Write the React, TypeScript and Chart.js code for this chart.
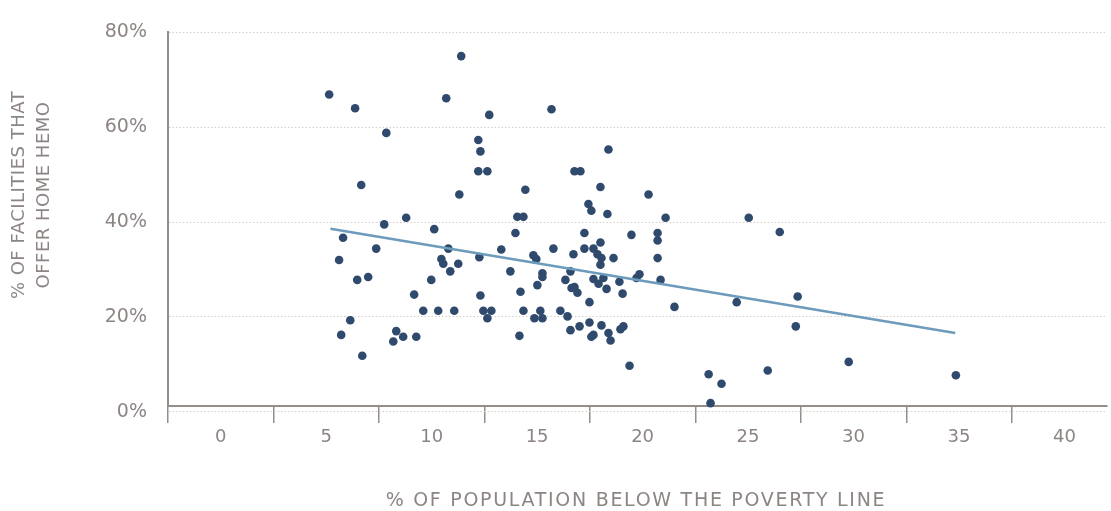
import { useEffect, useRef } from 'react';
import { Chart, registerables } from 'chart.js';

Chart.register(...registerables);

// % of population below the poverty line (x) for each area
const povertyRate = [
  5.14, 6.37, 7.85, 6.66, 11.4, 10.69, 12.73, 15.68, 12.21, 12.31,
  12.21, 12.64, 16.77, 17.05, 11.31, 14.44, 18.0, 17.43, 17.57, 18.38,
  20.28, 18.33, 21.09, 25.03, 26.5, 5.8, 7.75, 8.79, 10.12, 14.06,
  14.35, 13.97, 17.24, 19.47, 20.71, 20.71, 7.37, 5.61, 10.79, 13.3,
  15.77, 17.24, 17.67, 18.0, 16.72, 17.86, 18.05, 18.62, 20.71, 14.82,
  14.96, 12.26, 10.46, 10.55, 11.26, 18.0, 10.88, 13.73, 16.58, 15.25,
  15.25, 6.47, 6.99, 9.98, 16.34, 17.67, 18.14, 17.91, 15.01, 18.29,
  18.9, 19.05, 19.71, 19.85, 20.85, 16.63, 16.77, 16.91, 14.21, 9.17,
  12.31, 17.48, 21.51, 24.46, 27.35, 9.6, 10.31, 11.07, 12.45, 12.83,
  12.64, 14.35, 15.15, 14.87, 15.25, 16.1, 16.44, 17.48, 17.01, 18.05,
  16.58, 17.57, 17.67, 18.38, 18.48, 18.95, 19.09, 27.26, 6.14, 5.71,
  8.32, 8.65, 8.18, 9.27, 14.16, 6.71, 19.38, 23.13, 23.74, 23.22,
  25.93, 29.77, 34.85,
];

// % of facilities that offer home hemodialysis (y)
const homeHemoShare = [
  66.9, 64.0, 58.8, 47.8, 75.0, 66.1, 62.6, 63.8, 57.3, 54.9,
  50.7, 50.7, 50.7, 50.7, 45.8, 46.8, 47.4, 43.8, 42.4, 55.3,
  45.8, 41.7, 40.9, 40.9, 37.9, 36.7, 39.5, 40.9, 38.5, 41.1,
  41.1, 37.7, 37.7, 37.3, 37.7, 36.1, 34.4, 32.0, 34.4, 34.2,
  34.4, 34.4, 34.4, 35.7, 33.2, 33.2, 32.4, 32.4, 32.4, 33.0,
  32.2, 32.6, 32.2, 31.2, 31.2, 31.0, 29.6, 29.6, 29.6, 29.2,
  28.4, 27.8, 28.4, 27.8, 27.8, 28.0, 28.2, 27.0, 26.7, 25.9,
  27.4, 24.9, 28.2, 29.0, 27.8, 26.1, 26.3, 25.1, 25.3, 24.7,
  24.5, 23.1, 22.1, 23.1, 24.3, 21.3, 21.3, 21.3, 21.3, 21.3,
  19.7, 21.3, 21.3, 19.7, 19.7, 21.3, 20.1, 18.8, 18.0, 18.2,
  17.2, 15.8, 16.2, 16.6, 15.0, 17.4, 18.0, 18.0, 19.3, 16.2,
  17.0, 15.8, 14.8, 15.8, 16.0, 11.8, 9.7, 7.9, 5.9, 1.8,
  8.7, 10.5, 7.7,
];

// Linear trend line end points
const trendX = [5.2, 34.82];
const trendY = [38.6, 16.6];

// Axis tick labels
const xTickLabels = [0, 5, 10, 15, 20, 25, 30, 35, 40];
const yTickLabels = [0, 20, 40, 60, 80];

const xTitle = '% OF POPULATION BELOW THE POVERTY LINE';
const yTitleLines = ['% OF FACILITIES THAT', 'OFFER HOME HEMO'];

const TEXT = '#8c8583';
const AXIS = '#958d8a';
const GRID = '#d6cec7';
const DOT = '#2f4a6d';
const TREND = '#6c9bbb';
const FONT = '"DejaVu Sans", sans-serif';

const axisTitlePlugin = {
  id: 'axisTitlePlugin',
  afterDraw(chart: any) {
    const ctx = chart.ctx as CanvasRenderingContext2D;
    ctx.save();
    ctx.fillStyle = TEXT;
    ctx.textAlign = 'center';
    ctx.textBaseline = 'middle';
    // x title
    ctx.font = `19px ${FONT}`;
    (ctx as any).letterSpacing = '1.7px';
    ctx.fillText(xTitle, 636, chart.height - 10);
    // y title
    ctx.font = `18px ${FONT}`;
    (ctx as any).letterSpacing = '0.5px';
    ctx.translate(19, 195);
    ctx.rotate(-Math.PI / 2);
    yTitleLines.forEach((line, i) => {
      ctx.fillText(line, 0, i * 25);
    });
    ctx.restore();
  },
};

export default function App() {
  const canvasRef = useRef<HTMLCanvasElement | null>(null);

  useEffect(() => {
    const canvas = canvasRef.current;
    if (!canvas) return;
    const points = povertyRate.map((x, i) => ({ x, y: homeHemoShare[i] }));
    const trend = trendX.map((x, i) => ({ x, y: trendY[i] }));

    const chart = new Chart(canvas, {
      type: 'scatter',
      data: {
        datasets: [
          {
            type: 'line',
            data: trend,
            borderColor: TREND,
            borderWidth: 2.5,
            pointRadius: 0,
            fill: false,
            order: 0,
          } as any,
          {
            type: 'scatter',
            data: points,
            backgroundColor: DOT,
            borderColor: DOT,
            borderWidth: 0,
            pointRadius: 4.3,
            pointHoverRadius: 4.3,
            order: 1,
            clip: false,
          } as any,
        ],
      },
      options: {
        animation: false,
        responsive: false,
        devicePixelRatio: 1,
        layout: { padding: { left: 0, right: 0, top: 17, bottom: 0 } },
        plugins: {
          legend: { display: false },
          tooltip: { enabled: false },
        },
        scales: {
          x: {
            type: 'linear',
            min: -2.5,
            max: 42.0,
            afterBuildTicks: (scale: any) => {
              scale.ticks = xTickLabels.map((v) => ({ value: v - 2.5 }));
            },
            afterFit: (scale: any) => {
              scale.height = 105;
              scale.paddingLeft = 0;
              scale.paddingRight = 0;
            },
            grid: {
              display: true,
              drawOnChartArea: false,
              drawTicks: true,
              tickLength: 17,
              color: AXIS,
              lineWidth: 1.5,
            },
            border: { display: true, color: AXIS, width: 2 },
            ticks: {
              autoSkip: false,
              maxRotation: 0,
              labelOffset: 52.7,
              padding: 4,
              color: TEXT,
              font: { family: FONT, size: 18 },
              callback: (value: any) => String(Number(value) + 2.5),
            },
            title: { display: false },
          },
          y: {
            type: 'linear',
            min: 1.2,
            max: 80,
            afterBuildTicks: (scale: any) => {
              scale.ticks = yTickLabels.map((v) => ({ value: v }));
            },
            afterFit: (scale: any) => {
              scale.width = 168;
              scale.paddingLeft = 0;
              scale.paddingRight = 0;
            },
            grid: {
              display: true,
              drawTicks: false,
              color: GRID,
              lineWidth: 1,
            },
            border: { display: true, color: AXIS, width: 2, dash: [1.5, 2] },
            ticks: {
              autoSkip: false,
              padding: 21,
              color: TEXT,
              font: { family: FONT, size: 19 },
              callback: (value: any) => `${value}%`,
            },
            title: { display: false },
          },
        },
      },
      plugins: [axisTitlePlugin],
    });

    return () => {
      chart.destroy();
    };
  }, []);

  return (
    <div style={{ position: 'fixed', left: 0, top: 0, width: 1111, height: 511, background: '#fff' }}>
      <canvas ref={canvasRef} width={1111} height={511} style={{ width: 1111, height: 511, display: 'block' }} />
    </div>
  );
}
